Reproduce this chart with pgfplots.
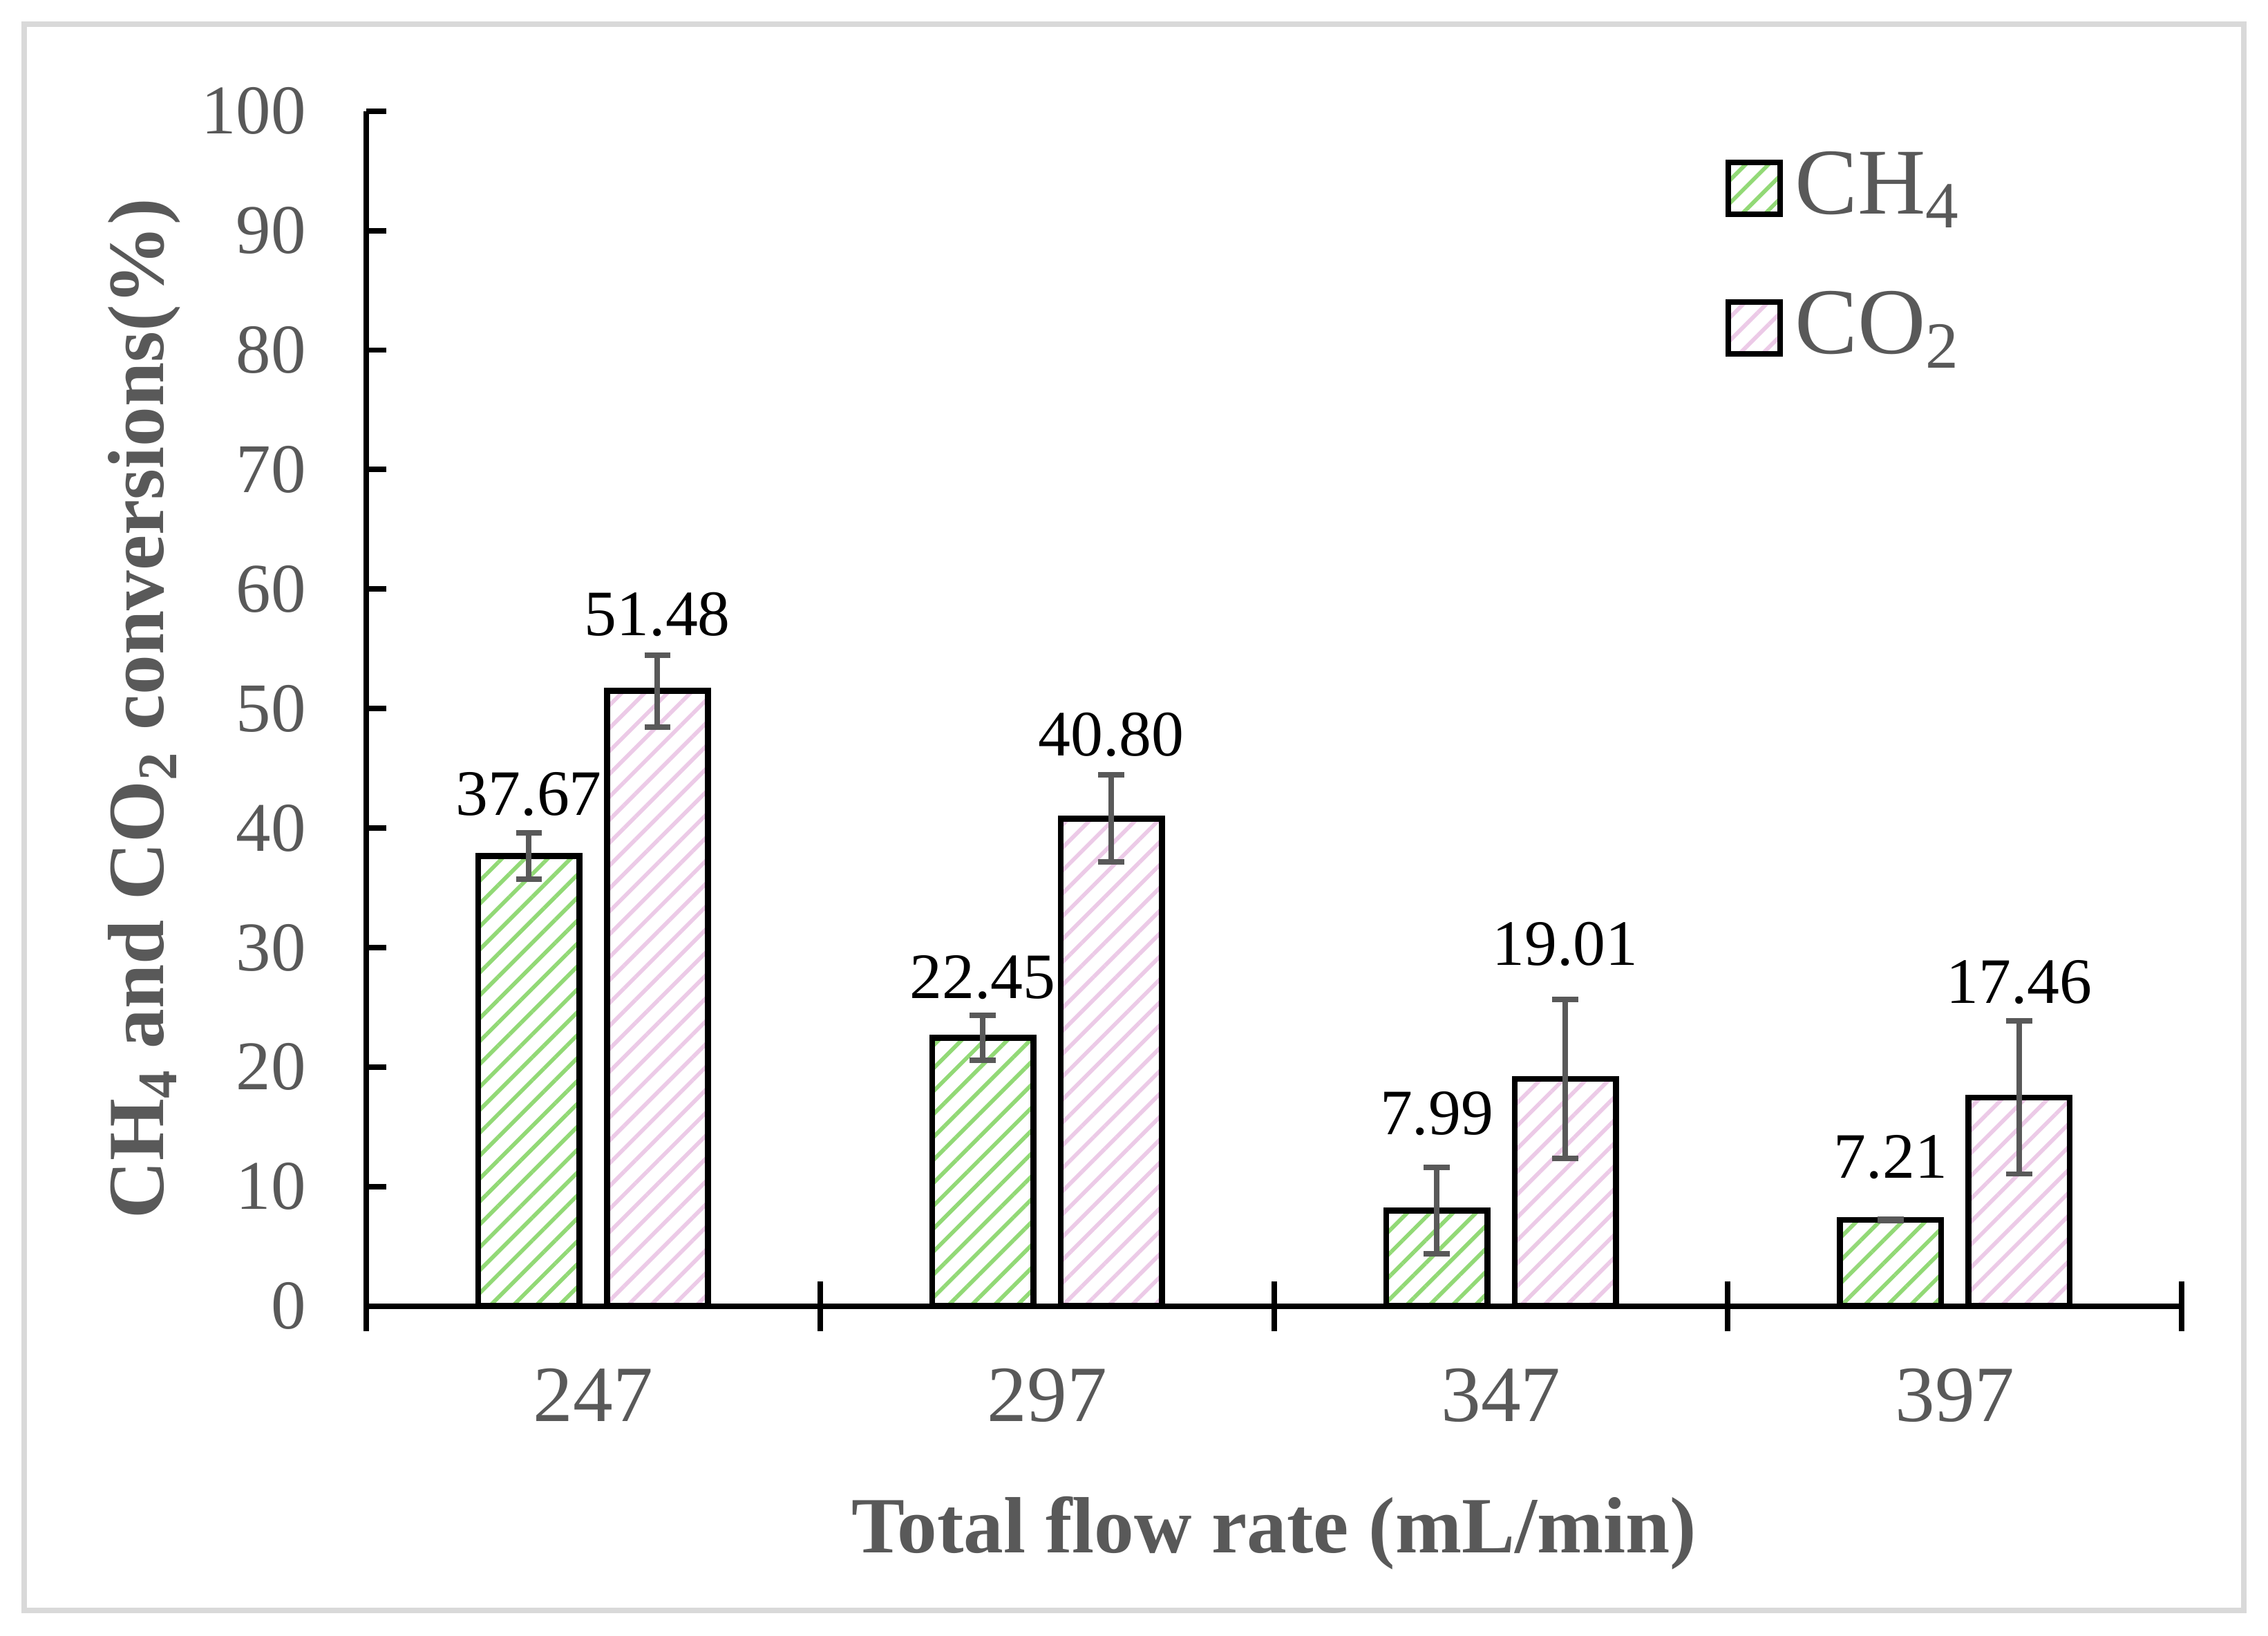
\documentclass[border=0pt]{standalone}
\usepackage{fontspec}
\setmainfont{Liberation Serif}
\usepackage{pgfplots}
\usepackage{pgfplotstable}
\pgfplotsset{compat=1.18}
\usetikzlibrary{patterns.meta}

\definecolor{hgreen}{RGB}{146,217,118}
\definecolor{hpink}{RGB}{236,202,231}
\definecolor{txtgray}{RGB}{89,89,89}
\definecolor{framegray}{RGB}{217,217,217}

\pgfplotsset{
  boxlegend/.style={legend image code/.code={\draw[##1] (0pt,-5.5pt) rectangle (10.4pt,4.9pt);}},
}

% conversions (%) and error bars
\pgfplotstableread{
x  ch4   ch4err co2   co2err
0  37.67 1.93   51.48 3.01
1  22.45 1.90   40.80 3.64
2  7.99  3.60   19.01 6.63
3  7.21  0.05   17.46 6.40
}\datatable

% value labels, placed above the bars
\pgfplotstableread{
x       y     lab
-0.1416 42.86 37.67
0.1416  57.87 51.48
0.8584  27.48 22.45
1.1416  47.82 40.80
1.8584  16.10 7.99
2.1416  30.27 19.01
2.8584  12.47 7.21
3.1416  27.12 17.46
}\labtable

\begin{document}
\begin{tikzpicture}
\path[use as bounding box] (0,0) rectangle (455.2pt,328.2pt);
\draw[framegray, line width=1.1pt] (4.85pt,5pt) rectangle (450.4pt,323.3pt);
\begin{axis}[
  at={(73.5pt,66.1pt)}, anchor=south west,
  scale only axis,
  width=364.4pt, height=239.8pt,
  ybar, bar width=20.3pt,
  xmin=-0.5, xmax=3.5, ymin=0, ymax=100,
  axis x line=bottom, axis y line=left,
  axis line style={black, line width=1.1pt, -},
  tick align=inside, major tick length=4pt,
  tick style={black, line width=1.1pt},
  xtick={-0.5,0.5,1.5,2.5,3.5},
  xticklabels={247,297,347,397,},
  xticklabel style={anchor=center, xshift=45.55pt, yshift=-17.9pt,
    font=\fontsize{16}{18}\selectfont, text=txtgray},
  extra x ticks={-0.5,0.5,1.5,2.5,3.5},
  extra x tick labels={\empty,\empty,\empty,\empty,\empty},
  extra x tick style={major tick length=10pt, tick align=center},
  ytick={0,10,...,100},
  yticklabel style={anchor=east, inner sep=0pt, xshift=-11.9pt,
    font=\fontsize{14}{16}\selectfont, text=txtgray},
  /pgf/number format/assume math mode=true,
  xlabel={Total flow rate (mL/min)},
  xlabel style={at={(axis description cs:0.5,-0.19)}, anchor=center,
    font=\bfseries\fontsize{16}{18}\selectfont, text=txtgray},
  ylabel={CH\textsubscript{4} and CO\textsubscript{2} conversions(\%)},
  ylabel style={at={(axis description cs:-0.1221,0.5)}, anchor=center,
    font=\bfseries\fontsize{16}{18}\selectfont, text=txtgray},
  legend style={at={(0.7486,0.9658)}, anchor=north west, draw=none, fill=none,
    inner sep=0pt, outer sep=0pt, row sep=14pt, column sep=2.4pt,
    font=\fontsize{18.9}{20}\selectfont, text=txtgray,
    nodes={inner sep=0pt, text height=12.5pt, text depth=1.5pt}},
  legend cell align=left,
]
\addplot[bar shift=-12.9pt, draw=black, line width=1.2pt,
  pattern={Lines[angle=45, distance=3.25pt, line width=0.8pt]}, pattern color=hgreen,
  boxlegend,
  error bars/.cd, y dir=both, y explicit, error mark=|,
  error bar style={txtgray, line width=1.1pt},
  error mark options={txtgray, mark size=2.6pt, line width=1.1pt}]
  table[x=x, y=ch4, y error=ch4err] {\datatable};
\addlegendentry{CH\textsubscript{4}}
\addplot[bar shift=12.9pt, draw=black, line width=1.2pt,
  pattern={Lines[angle=45, distance=3.25pt, line width=0.8pt]}, pattern color=hpink,
  boxlegend,
  error bars/.cd, y dir=both, y explicit, error mark=|,
  error bar style={txtgray, line width=1.1pt},
  error mark options={txtgray, mark size=2.6pt, line width=1.1pt}]
  table[x=x, y=co2, y error=co2err] {\datatable};
\addlegendentry{CO\textsubscript{2}}
\addplot[forget plot, bar shift=0pt, draw=none, fill=none, nodes near coords,
  point meta=explicit symbolic,
  every node near coord/.append style={anchor=center, inner sep=0pt,
    font=\fontsize{13}{15}\selectfont, text=black}]
  table[x=x, y=y, meta=lab] {\labtable};
\end{axis}
\end{tikzpicture}
\end{document}
